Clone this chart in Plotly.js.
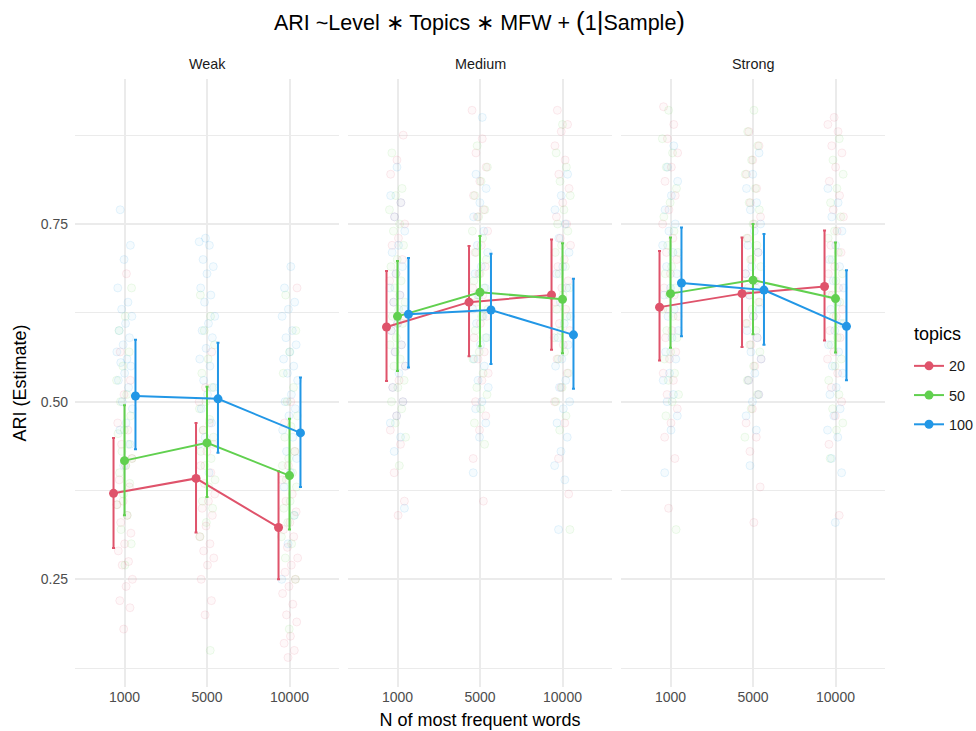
<!DOCTYPE html>
<html>
<head>
<meta charset="utf-8">
<script src="https://cdn.plot.ly/plotly-3.0.1.min.js"></script>
<style>html,body{margin:0;padding:0;background:#fff;}#chart{width:976px;height:731px;}</style>
</head>
<body>
<div id="chart"></div>
<script>
// ---- categories ----
const levels = ["Weak", "Medium", "Strong"];
const mfwLabels = ["1000", "5000", "10000"];
const topics = ["20", "50", "100"];

// ---- model estimates (rows: Weak, Medium, Strong; cols: 1000, 5000, 10000) ----
const est_20  = [[0.371, 0.392, 0.323], [0.605, 0.640, 0.650], [0.633, 0.652, 0.662]];
const lo_20   = [[0.294, 0.316, 0.250], [0.529, 0.564, 0.573], [0.558, 0.577, 0.586]];
const hi_20   = [[0.449, 0.470, 0.402], [0.684, 0.719, 0.728], [0.712, 0.731, 0.741]];
const est_50  = [[0.417, 0.442, 0.396], [0.620, 0.654, 0.644], [0.652, 0.671, 0.645]];
const lo_50   = [[0.340, 0.366, 0.320], [0.543, 0.578, 0.568], [0.576, 0.595, 0.569]];
const hi_50   = [[0.495, 0.521, 0.476], [0.698, 0.733, 0.723], [0.731, 0.750, 0.724]];
const est_100 = [[0.508, 0.504, 0.456], [0.623, 0.629, 0.594], [0.667, 0.657, 0.606]];
const lo_100  = [[0.433, 0.428, 0.380], [0.548, 0.553, 0.518], [0.592, 0.580, 0.530]];
const hi_100  = [[0.587, 0.583, 0.534], [0.702, 0.708, 0.673], [0.745, 0.736, 0.685]];

// ---- raw observations (per level; per topic; lists for 1000, 5000, 10000) ----
const raw_Weak_20 = [
  [0.68, 0.57, 0.53, 0.51, 0.47, 0.46, 0.44, 0.42, 0.41, 0.39, 0.38, 0.36, 0.355, 0.34, 0.33, 0.315, 0.30, 0.29, 0.275, 0.27, 0.25, 0.24, 0.22, 0.21, 0.18],
  [0.57, 0.52, 0.50, 0.47, 0.46, 0.44, 0.43, 0.41, 0.40, 0.385, 0.37, 0.36, 0.35, 0.34, 0.325, 0.31, 0.30, 0.29, 0.28, 0.27, 0.25, 0.22, 0.20],
  [0.66, 0.50, 0.47, 0.43, 0.41, 0.39, 0.37, 0.36, 0.345, 0.33, 0.32, 0.31, 0.295, 0.28, 0.27, 0.26, 0.25, 0.24, 0.23, 0.215, 0.20, 0.19, 0.17, 0.16, 0.15, 0.14]];
const raw_Weak_50 = [
  [0.66, 0.62, 0.60, 0.57, 0.55, 0.53, 0.51, 0.50, 0.48, 0.46, 0.455, 0.44, 0.43, 0.42, 0.41, 0.40, 0.385, 0.37, 0.355, 0.34, 0.32, 0.30, 0.27],
  [0.65, 0.62, 0.60, 0.58, 0.56, 0.54, 0.52, 0.50, 0.49, 0.475, 0.46, 0.45, 0.44, 0.43, 0.42, 0.41, 0.39, 0.38, 0.36, 0.35, 0.33, 0.31, 0.15],
  [0.65, 0.60, 0.57, 0.54, 0.52, 0.50, 0.48, 0.465, 0.45, 0.43, 0.42, 0.41, 0.40, 0.39, 0.38, 0.36, 0.35, 0.34, 0.33, 0.31, 0.30, 0.28, 0.25, 0.18]];
const raw_Weak_100 = [
  [0.77, 0.72, 0.70, 0.66, 0.64, 0.63, 0.62, 0.61, 0.60, 0.59, 0.58, 0.57, 0.56, 0.555, 0.55, 0.54, 0.53, 0.52, 0.50, 0.49, 0.47, 0.46, 0.44, 0.41],
  [0.73, 0.725, 0.72, 0.70, 0.69, 0.68, 0.66, 0.65, 0.64, 0.62, 0.61, 0.60, 0.59, 0.575, 0.56, 0.55, 0.53, 0.52, 0.51, 0.49, 0.47, 0.45, 0.44, 0.40],
  [0.69, 0.66, 0.64, 0.63, 0.62, 0.60, 0.59, 0.58, 0.57, 0.56, 0.55, 0.54, 0.53, 0.51, 0.50, 0.49, 0.48, 0.46, 0.45, 0.43, 0.42, 0.40, 0.38, 0.34, 0.30, 0.25]];
const raw_Medium_20 = [
  [0.875, 0.84, 0.82, 0.78, 0.76, 0.75, 0.73, 0.72, 0.70, 0.68, 0.67, 0.65, 0.64, 0.62, 0.61, 0.60, 0.58, 0.57, 0.55, 0.53, 0.52, 0.50, 0.48, 0.46, 0.44, 0.40, 0.36, 0.34],
  [0.91, 0.87, 0.85, 0.83, 0.81, 0.79, 0.77, 0.76, 0.74, 0.72, 0.71, 0.69, 0.68, 0.66, 0.65, 0.64, 0.62, 0.61, 0.59, 0.57, 0.56, 0.54, 0.53, 0.50, 0.48, 0.46, 0.42, 0.36],
  [0.91, 0.89, 0.88, 0.86, 0.84, 0.82, 0.80, 0.78, 0.76, 0.75, 0.73, 0.72, 0.70, 0.69, 0.67, 0.66, 0.64, 0.63, 0.61, 0.60, 0.58, 0.56, 0.54, 0.52, 0.50, 0.47, 0.42, 0.37]];
const raw_Medium_50 = [
  [0.85, 0.80, 0.79, 0.77, 0.75, 0.74, 0.72, 0.70, 0.69, 0.67, 0.66, 0.64, 0.63, 0.62, 0.61, 0.59, 0.58, 0.56, 0.55, 0.53, 0.52, 0.50, 0.49, 0.47, 0.45, 0.41],
  [0.86, 0.83, 0.81, 0.79, 0.77, 0.76, 0.74, 0.73, 0.71, 0.70, 0.68, 0.67, 0.66, 0.65, 0.63, 0.62, 0.60, 0.59, 0.57, 0.56, 0.54, 0.52, 0.51, 0.49, 0.47, 0.44],
  [0.89, 0.85, 0.83, 0.81, 0.79, 0.77, 0.75, 0.74, 0.72, 0.71, 0.69, 0.68, 0.66, 0.65, 0.63, 0.62, 0.60, 0.59, 0.57, 0.56, 0.54, 0.52, 0.50, 0.48, 0.46, 0.32]];
const raw_Medium_100 = [
  [0.83, 0.79, 0.78, 0.76, 0.74, 0.72, 0.71, 0.69, 0.68, 0.66, 0.65, 0.64, 0.63, 0.61, 0.60, 0.58, 0.57, 0.55, 0.54, 0.52, 0.50, 0.48, 0.47, 0.45, 0.43, 0.35],
  [0.90, 0.82, 0.80, 0.78, 0.76, 0.74, 0.72, 0.71, 0.69, 0.68, 0.66, 0.65, 0.63, 0.62, 0.61, 0.59, 0.58, 0.56, 0.55, 0.53, 0.52, 0.50, 0.49, 0.47, 0.45, 0.40],
  [0.82, 0.79, 0.77, 0.75, 0.73, 0.71, 0.69, 0.68, 0.66, 0.64, 0.62, 0.61, 0.59, 0.58, 0.56, 0.55, 0.53, 0.52, 0.50, 0.49, 0.47, 0.45, 0.43, 0.41, 0.39, 0.32]];
const raw_Strong_20 = [
  [0.915, 0.89, 0.87, 0.85, 0.83, 0.81, 0.79, 0.77, 0.75, 0.73, 0.71, 0.70, 0.68, 0.66, 0.65, 0.63, 0.62, 0.60, 0.59, 0.57, 0.56, 0.54, 0.53, 0.51, 0.49, 0.47, 0.45, 0.42, 0.35],
  [0.88, 0.86, 0.84, 0.82, 0.80, 0.78, 0.76, 0.75, 0.73, 0.71, 0.70, 0.68, 0.67, 0.65, 0.64, 0.62, 0.61, 0.59, 0.58, 0.56, 0.55, 0.53, 0.51, 0.49, 0.47, 0.45, 0.43, 0.38, 0.33],
  [0.90, 0.89, 0.88, 0.86, 0.85, 0.83, 0.81, 0.79, 0.77, 0.76, 0.74, 0.72, 0.71, 0.69, 0.68, 0.66, 0.65, 0.63, 0.62, 0.60, 0.59, 0.57, 0.56, 0.54, 0.52, 0.50, 0.48, 0.44, 0.34]];
const raw_Strong_50 = [
  [0.91, 0.87, 0.85, 0.83, 0.80, 0.78, 0.76, 0.74, 0.72, 0.71, 0.69, 0.68, 0.66, 0.65, 0.63, 0.62, 0.60, 0.59, 0.57, 0.56, 0.54, 0.53, 0.51, 0.50, 0.48, 0.32],
  [0.91, 0.88, 0.86, 0.84, 0.82, 0.80, 0.78, 0.77, 0.75, 0.73, 0.72, 0.70, 0.69, 0.67, 0.66, 0.64, 0.63, 0.61, 0.60, 0.58, 0.57, 0.55, 0.53, 0.51, 0.49, 0.45],
  [0.87, 0.84, 0.82, 0.80, 0.78, 0.76, 0.74, 0.73, 0.71, 0.70, 0.68, 0.67, 0.65, 0.64, 0.62, 0.61, 0.59, 0.58, 0.56, 0.55, 0.53, 0.51, 0.49, 0.47, 0.46, 0.42]];
const raw_Strong_100 = [
  [0.86, 0.83, 0.81, 0.79, 0.77, 0.75, 0.74, 0.72, 0.71, 0.69, 0.68, 0.66, 0.65, 0.63, 0.62, 0.60, 0.59, 0.57, 0.56, 0.54, 0.53, 0.51, 0.50, 0.48, 0.46, 0.40],
  [0.85, 0.82, 0.80, 0.78, 0.77, 0.75, 0.74, 0.72, 0.71, 0.69, 0.68, 0.66, 0.65, 0.63, 0.62, 0.60, 0.59, 0.57, 0.56, 0.54, 0.53, 0.51, 0.50, 0.48, 0.46, 0.41],
  [0.80, 0.78, 0.76, 0.74, 0.72, 0.70, 0.69, 0.67, 0.66, 0.64, 0.63, 0.61, 0.60, 0.58, 0.57, 0.55, 0.54, 0.52, 0.51, 0.49, 0.48, 0.46, 0.45, 0.42, 0.40, 0.33]];

// ---- styling ----
const colors = {"20": "#DF536B", "50": "#61D04F", "100": "#2297E6"};
const rgba = {"20": [223, 83, 107], "50": [97, 208, 79], "100": [34, 151, 230]};
const FONT = "Liberation Sans, Arial, Helvetica, sans-serif";

const estMap = {"20": est_20, "50": est_50, "100": est_100};
const loMap = {"20": lo_20, "50": lo_50, "100": lo_100};
const hiMap = {"20": hi_20, "50": hi_50, "100": hi_100};
const rawMap = {
  Weak: {"20": raw_Weak_20, "50": raw_Weak_50, "100": raw_Weak_100},
  Medium: {"20": raw_Medium_20, "50": raw_Medium_50, "100": raw_Medium_100},
  Strong: {"20": raw_Strong_20, "50": raw_Strong_50, "100": raw_Strong_100}
};
const dodge = {"20": -0.133, "50": 0, "100": 0.133};
const xaxisIds = ["x", "x2", "x3"];

const traces = [];
// raw jittered observations (deterministic low-discrepancy jitter)
levels.forEach((lev, li) => {
  topics.forEach((tp, ti) => {
    const xs = [], ys = [];
    rawMap[lev][tp].forEach((vals, mi) => {
      vals.forEach((v, k) => {
        const frac = ((k + 1) * 0.6180339887 + ti * 0.31 + mi * 0.17 + li * 0.23) % 1;
        xs.push(mi + 1 + (frac - 0.5) * 0.2);
        ys.push(v);
      });
    });
    const c = rgba[tp];
    traces.push({
      type: "scatter", mode: "markers", x: xs, y: ys,
      xaxis: xaxisIds[li], yaxis: "y", showlegend: false, hoverinfo: "skip",
      marker: {size: 8, color: `rgba(${c[0]},${c[1]},${c[2]},0.045)`,
               line: {width: 1, color: `rgba(${c[0]},${c[1]},${c[2]},0.11)`}}
    });
  });
});

// estimates with CIs
levels.forEach((lev, li) => {
  topics.forEach((tp) => {
    const e = estMap[tp][li], lo = loMap[tp][li], hi = hiMap[tp][li];
    traces.push({
      type: "scatter", mode: "lines+markers",
      name: tp, legendgroup: tp, showlegend: li === 0,
      x: mfwLabels.map((_, mi) => mi + 1 + dodge[tp]),
      y: e,
      xaxis: xaxisIds[li], yaxis: "y", hoverinfo: "skip",
      line: {color: colors[tp], width: 2},
      marker: {color: colors[tp], size: 9},
      error_y: {type: "data", symmetric: false,
                array: e.map((v, i) => hi[i] - v),
                arrayminus: e.map((v, i) => v - lo[i]),
                color: colors[tp], thickness: 2, width: 1.5}
    });
  });
});

const ML = 75, W = 891, gap = 9, pw = 264;
const px = (p) => (p - ML) / W;   // page pixel -> paper x
const gridC = "#EBEBEB";
function xax(i) {
  return {
    domain: [i * (pw + gap) / W, (i * (pw + gap) + pw) / W],
    range: [0.4, 3.6], tickvals: [1, 2, 3], ticktext: mfwLabels,
    showgrid: true, gridcolor: gridC, gridwidth: 2, zeroline: false, showline: false,
    ticks: "", tickfont: {family: FONT, size: 14, color: "#4D4D4D"},
    anchor: "y", fixedrange: true, automargin: false
  };
}
const layout = {
  width: 976, height: 731,
  margin: {l: ML, r: 976 - ML - W, t: 79, b: 44, autoexpand: false},
  paper_bgcolor: "#FFFFFF", plot_bgcolor: "#FFFFFF",
  font: {family: FONT, color: "#1A1A1A"},
  hovermode: false,
  title: {text: "ARI ~Level ∗ Topics ∗ MFW + <span style='font-size:26px'>(</span>1<span style='font-size:26px'>|</span>Sample<span style='font-size:26px'>)</span>",
          font: {family: FONT, size: 21.5, color: "#000000"},
          x: px(479.5), xref: "paper", xanchor: "center", y: 1 - 22 / 731, yref: "container", yanchor: "middle"},
  xaxis: xax(0),
  xaxis2: Object.assign(xax(1), {title: {text: "N of most frequent words", font: {family: FONT, size: 18, color: "#000000"}, standoff: 9}}),
  xaxis3: xax(2),
  yaxis: {
    domain: [0, 1], range: [0.0985, 0.954], tickvals: [0.25, 0.5, 0.75], ticktext: ["0.25", "0.50", "0.75"],
    showgrid: true, gridcolor: gridC, gridwidth: 2, zeroline: false, showline: false, ticks: "",
    tickfont: {family: FONT, size: 14, color: "#4D4D4D"}, ticklabelstandoff: 6,
    minor: {tickvals: [0.125, 0.375, 0.625, 0.875], showgrid: true, gridcolor: gridC, gridwidth: 1, ticks: ""},
    title: {text: "ARI (Estimate)", font: {family: FONT, size: 18, color: "#000000"}, standoff: 9},
    fixedrange: true, automargin: false
  },
  showlegend: true,
  legend: {
    x: px(909), xanchor: "left", y: 1 - (395.5 - 79) / 608, yanchor: "middle",
    font: {family: FONT, size: 14.4, color: "#1A1A1A"},
    tracegroupgap: 7.5, itemwidth: 30, bgcolor: "rgba(0,0,0,0)"
  },
  annotations: levels.map((lev, li) => ({
    text: lev, xref: xaxisIds[li] + " domain", x: 0.5, xanchor: "center",
    yref: "paper", y: 1 + 15 / 608, yanchor: "middle", showarrow: false,
    font: {family: FONT, size: 14.4, color: "#1A1A1A"}
  })).concat([{
    text: "topics", xref: "paper", x: px(912), xanchor: "left",
    yref: "paper", y: 1 - (334 - 79) / 608, yanchor: "middle", showarrow: false,
    font: {family: FONT, size: 18, color: "#000000"}
  }])
};

Plotly.newPlot("chart", traces, layout, {displayModeBar: false, responsive: false});
</script>
</body>
</html>
